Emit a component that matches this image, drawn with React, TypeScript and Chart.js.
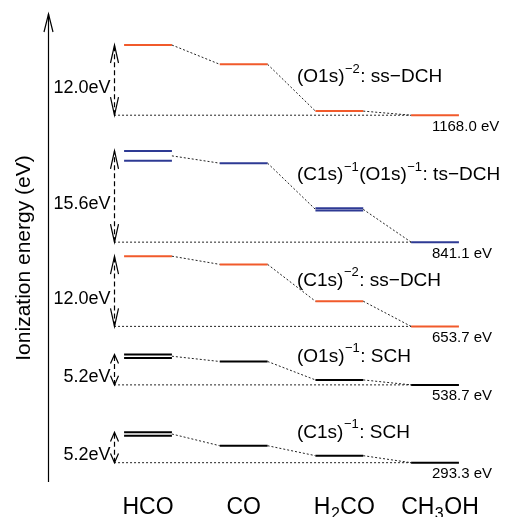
import { useEffect, useRef } from 'react';
import { Chart, registerables } from 'chart.js';

Chart.register(...registerables);

// ---- data ----
const categories = ['HCO', 'CO', 'H2CO', 'CH3OH'];
// CH3OH reference ionization energy of each group (eV)
const baseEnergies = [293.3, 538.7, 653.7, 841.1, 1168.0];
// energy gaps HCO -> CH3OH written on the arrows
const gapLabels = ['5.2eV', '5.2eV', '12.0eV', '15.6eV', '12.0eV'];
// level energies relative to CH3OH (eV) for HCO, CO, H2CO, CH3OH
const c1sSCH = [[5.2, 4.6], [2.9], [1.2], [0]];
const o1sSCH = [[5.2, 4.6], [4.0], [0.85], [0]];
const c1sSsDCH = [[12.0], [10.6], [4.3], [0]];
const tsDCH = [[15.6, 13.9], [13.5], [5.8, 5.4], [0]];
const o1sSsDCH = [[12.0], [8.7], [0.7], [0]];

const ORANGE = '#f15a2b';
const BLUE = '#2e3a94';
const BLACK = '#000000';

type Part = { t: string; s?: 'sup' | 'sub' };

const groupLevels = [c1sSCH, o1sSCH, c1sSsDCH, tsDCH, o1sSsDCH];
const groupColors = [BLACK, BLACK, ORANGE, BLUE, ORANGE];
const groupTitles: Part[][] = [
  [{ t: '(C1s)' }, { t: '\u22121', s: 'sup' }, { t: ': SCH' }],
  [{ t: '(O1s)' }, { t: '\u22121', s: 'sup' }, { t: ': SCH' }],
  [{ t: '(C1s)' }, { t: '\u22122', s: 'sup' }, { t: ': ss\u2212DCH' }],
  [{ t: '(C1s)' }, { t: '\u22121', s: 'sup' }, { t: '(O1s)' }, { t: '\u22121', s: 'sup' }, { t: ': ts\u2212DCH' }],
  [{ t: '(O1s)' }, { t: '\u22122', s: 'sup' }, { t: ': ss\u2212DCH' }],
];
const categoryLabels: Part[][] = [
  [{ t: 'HCO' }],
  [{ t: 'CO' }],
  [{ t: 'H' }, { t: '2', s: 'sub' }, { t: 'CO' }],
  [{ t: 'CH' }, { t: '3', s: 'sub' }, { t: 'OH' }],
];

// ---- layout (broken, schematic energy axis) ----
const groupBase = [3.3, 16.6, 26.6, 41.0, 62.7];
const titleRise = [4.27, 3.93, 6.94, 10.6, 5.64];
const HALF = 0.25;
const ARROW_X = -0.355;
const TITLE_X = 1.557;
const VALUE_X = 2.968;
const FONT = '"Liberation Sans", Arial, Helvetica, sans-serif';

function partsWidth(ctx: CanvasRenderingContext2D, parts: Part[], size: number, minor: number) {
  let w = 0;
  for (const p of parts) {
    ctx.font = `${p.s ? minor : size}px ${FONT}`;
    w += ctx.measureText(p.t).width + (p.s ? 1 : 0);
  }
  return w;
}

function drawParts(ctx: CanvasRenderingContext2D, parts: Part[], x: number, y: number, size: number, minor: number) {
  let cx = x;
  ctx.textAlign = 'left';
  ctx.textBaseline = 'alphabetic';
  for (const p of parts) {
    ctx.font = `${p.s ? minor : size}px ${FONT}`;
    let dy = 0;
    if (p.s === 'sup') dy = -size * 0.5;
    if (p.s === 'sub') dy = size * 0.22;
    if (p.s) cx += 0.5;
    ctx.fillText(p.t, cx, y + dy);
    cx += ctx.measureText(p.t).width + (p.s ? 0.5 : 0);
  }
}

const mean = (a: number[]) => a.reduce((s, v) => s + v, 0) / a.length;

function buildDatasets() {
  const ds: any[] = [];
  groupLevels.forEach((levels, g) => {
    const b = groupBase[g];
    // dotted baseline at the CH3OH level
    ds.push({
      data: [{ x: ARROW_X, y: b }, { x: 3 - HALF, y: b }],
      borderColor: '#222',
      borderWidth: 1,
      borderDash: [2, 2],
    });
    // dotted connectors
    for (let i = 0; i < levels.length - 1; i++) {
      ds.push({
        data: [
          { x: i + HALF, y: b + mean(levels[i]) },
          { x: i + 1 - HALF, y: b + mean(levels[i + 1]) },
        ],
        borderColor: '#222',
        borderWidth: 1,
        borderDash: [2, 2],
      });
    }
    // energy levels
    levels.forEach((vals, i) => {
      vals.forEach((v) => {
        ds.push({
          data: [{ x: i - HALF, y: b + v }, { x: i + HALF, y: b + v }],
          borderColor: groupColors[g],
          borderWidth: 2,
        });
      });
    });
  });
  return ds.map((d) => ({ ...d, showLine: true, pointRadius: 0, fill: false, clip: false }));
}

const annotations = {
  id: 'annotations',
  afterDraw(chart: any) {
    const ctx: CanvasRenderingContext2D = chart.ctx;
    const xs = chart.scales.x;
    const ys = chart.scales.y;
    const area = chart.chartArea;
    ctx.save();
    ctx.fillStyle = '#000';
    ctx.strokeStyle = '#000';

    // energy axis with arrow
    const ax = Math.round(area.left) + 0.5;
    ctx.lineWidth = 1.2;
    ctx.beginPath();
    ctx.moveTo(ax, area.bottom);
    ctx.lineTo(ax, area.top);
    ctx.stroke();
    ctx.beginPath();
    ctx.moveTo(ax - 4.5, area.top + 18);
    ctx.lineTo(ax, area.top);
    ctx.lineTo(ax + 4.5, area.top + 18);
    ctx.stroke();

    // axis title
    ctx.save();
    ctx.translate(24, (area.top + area.bottom) / 2 + 10);
    ctx.rotate(-Math.PI / 2);
    ctx.font = `21px ${FONT}`;
    ctx.textAlign = 'center';
    ctx.textBaseline = 'middle';
    ctx.fillText('Ionization energy (eV)', 0, 0);
    ctx.restore();

    groupLevels.forEach((levels, g) => {
      const b = groupBase[g];
      const top = Math.max(...levels[0]);
      const x = Math.round(xs.getPixelForValue(ARROW_X)) + 0.5;
      const y0 = ys.getPixelForValue(b);
      const y1 = ys.getPixelForValue(b + top);
      const span = y0 - y1;
      const head = Math.min(18, span * 0.3);
      // dashed double arrow
      ctx.lineWidth = 1.2;
      ctx.setLineDash([5, 3]);
      ctx.beginPath();
      ctx.moveTo(x, y0);
      ctx.lineTo(x, y1);
      ctx.stroke();
      ctx.setLineDash([]);
      ctx.beginPath();
      ctx.moveTo(x - 4, y1 + head);
      ctx.lineTo(x, y1);
      ctx.lineTo(x + 4, y1 + head);
      ctx.moveTo(x - 4, y0 - head);
      ctx.lineTo(x, y0);
      ctx.lineTo(x + 4, y0 - head);
      ctx.stroke();
      // gap label
      ctx.font = `18px ${FONT}`;
      ctx.textAlign = 'right';
      ctx.textBaseline = 'alphabetic';
      ctx.fillText(gapLabels[g], x - 4, (y0 + y1) / 2 + 12.5);

      // group title
      drawParts(ctx, groupTitles[g], xs.getPixelForValue(TITLE_X), ys.getPixelForValue(b + titleRise[g]), 19, 13);

      // reference value
      ctx.font = `15px ${FONT}`;
      ctx.textAlign = 'left';
      ctx.fillText(`${baseEnergies[g].toFixed(1)} eV`, xs.getPixelForValue(VALUE_X), y0 + 15.5);
    });

    // category labels
    categoryLabels.forEach((parts, i) => {
      const cx = xs.getPixelForValue(i);
      const main = parts.filter((p) => !p.s);
      const w = partsWidth(ctx, main, 23, 16);
      drawParts(ctx, parts, cx - w / 2, 514, 23, 16);
    });
    ctx.restore();
  },
};

export default function App() {
  const ref = useRef<HTMLCanvasElement | null>(null);
  useEffect(() => {
    if (!ref.current) return;
    const chart = new Chart(ref.current, {
      type: 'scatter',
      data: { datasets: buildDatasets() },
      options: {
        responsive: false,
        animation: false,
        layout: { padding: { left: 48, right: 10, top: 14, bottom: 35 } },
        plugins: { legend: { display: false }, tooltip: { enabled: false } },
        scales: {
          x: { type: 'linear', display: false, min: -1.0453, max: 3.627 },
          y: { type: 'linear', display: false, min: 0, max: 80 },
        },
      },
      plugins: [annotations],
    });
    return () => chart.destroy();
  }, []);
  return (
    <div style={{ position: 'fixed', left: 0, top: 0, width: 505, height: 517, background: '#fff' }}>
      <canvas ref={ref} width={505} height={517} style={{ display: 'block' }} />
    </div>
  );
}
